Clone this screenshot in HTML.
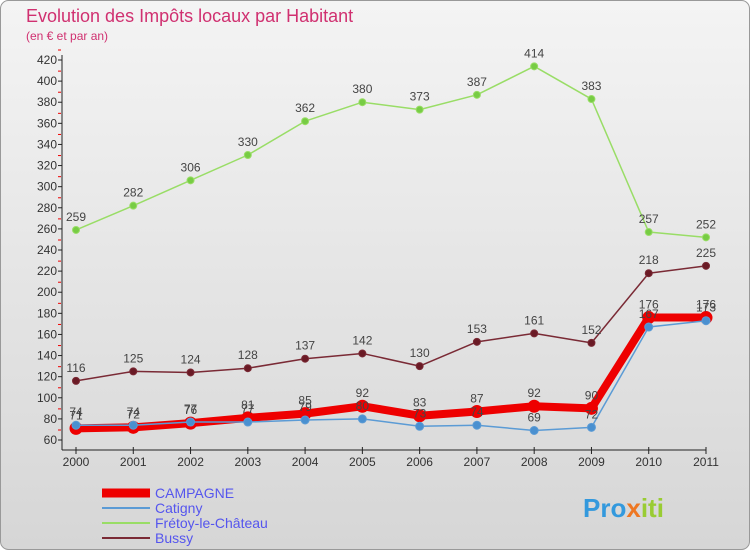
<!DOCTYPE html>
<html><head><meta charset="utf-8"><style>
body{margin:0;width:750px;height:550px;overflow:hidden;font-family:"Liberation Sans",sans-serif}
</style></head><body>
<svg width="750" height="550">
<defs><linearGradient id="bg" x1="0" y1="0" x2="0" y2="1"><stop offset="0" stop-color="#f4f4f4"/><stop offset="1" stop-color="#d6d6d6"/></linearGradient></defs>
<rect x="0.5" y="0.5" width="749" height="549" rx="8" fill="url(#bg)" stroke="#999"/>
<text x="26" y="22" font-size="18" fill="#d03070">Evolution des Impôts locaux par Habitant</text>
<text x="26" y="40" font-size="12" fill="#d03070">(en € et par an)</text>
<g id="axes"></g><g id="series"></g>
<g>
<line x1="102" y1="493" x2="150" y2="493" stroke="#ee0000" stroke-width="9"/>
<text x="155" y="498" font-size="14" fill="#5555ee">CAMPAGNE</text>
<line x1="102" y1="508" x2="150" y2="508" stroke="#5b9bd5" stroke-width="2"/>
<text x="155" y="513" font-size="14" fill="#5555ee">Catigny</text>
<line x1="102" y1="523" x2="150" y2="523" stroke="#99dd66" stroke-width="2"/>
<text x="155" y="528" font-size="14" fill="#5555ee">Frétoy-le-Château</text>
<line x1="102" y1="538" x2="150" y2="538" stroke="#7a2a35" stroke-width="2"/>
<text x="155" y="543" font-size="14" fill="#5555ee">Bussy</text>
</g>
<text x="583" y="517" font-size="26" font-weight="bold" fill="#3399dd">Pro<tspan fill="#ee7722">x</tspan><tspan fill="#99cc33">iti</tspan></text>
</svg>
<script>
const years=[2000,2001,2002,2003,2004,2005,2006,2007,2008,2009,2010,2011];
const yTicks=[60,80,100,120,140,160,180,200,220,240,260,280,300,320,340,360,380,400,420];
const campagne=[71,72,76,81,85,92,83,87,92,90,176,176];
const catigny=[74,74,77,77,79,80,73,74,69,72,167,173];
const fretoy=[259,282,306,330,362,380,373,387,414,383,257,252];
const bussy=[116,125,124,128,137,142,130,153,161,152,218,225];
const NS="http://www.w3.org/2000/svg";
const xs=i=>76+i*(630/11);
const ys=v=>440-(v-60)*(380/360);
function mk(t,a,p){const e=document.createElementNS(NS,t);for(const k in a)e.setAttribute(k,a[k]);p.appendChild(e);return e;}
const ax=document.getElementById('axes'),sr=document.getElementById('series');
const yl=mk('line',{x1:62,y1:55,x2:62,y2:450,stroke:'#222'},ax);


const xl=mk('line',{x1:62,y1:450,x2:xs(11),y2:450,stroke:'#222'},ax);


yTicks.forEach(v=>{
 mk('line',{x1:58,y1:ys(v),x2:62,y2:ys(v),stroke:'#222'},ax);
 mk('line',{x1:58,y1:ys(v)-10,x2:61,y2:ys(v)-10,stroke:'#e00'},ax);
 const t=mk('text',{x:57,y:ys(v)+4,'font-size':12,fill:'#333','text-anchor':'end'},ax);t.textContent=v;
 
 
});
years.forEach((y,i)=>{
 mk('line',{x1:xs(i),y1:447,x2:xs(i),y2:454,stroke:'#222'},ax);
 const t=mk('text',{x:xs(i),y:466,'font-size':12,fill:'#333','text-anchor':'middle'},ax);t.textContent=y;
 
 
});
function draw(name,d,color,w,r,fill){
 const g=mk('g',{},sr);
 
 
 mk('polyline',{points:d.map((v,i)=>xs(i)+','+ys(v)).join(' '),fill:'none',stroke:color,'stroke-width':w,'stroke-linejoin':'round'},g);
 d.forEach((v,i)=>{
  const c=mk('circle',{cx:xs(i),cy:ys(v),r:r,fill:fill,stroke:color},g);
  
  
  const t=mk('text',{x:xs(i),y:ys(v)-9,'font-size':12,fill:'#444','text-anchor':'middle'},g);t.textContent=v;
  
  
 });
}
draw('fretoy',fretoy,'#99dd66',1.5,3.5,'#77cc44');
draw('bussy',bussy,'#7a2a35',1.5,3.5,'#6a1a25');
draw('campagne',campagne,'#ee0000',8,6,'#ee0000');
draw('catigny',catigny,'#5b9bd5',1.5,4,'#4a90d0');
</script>
</body></html>
